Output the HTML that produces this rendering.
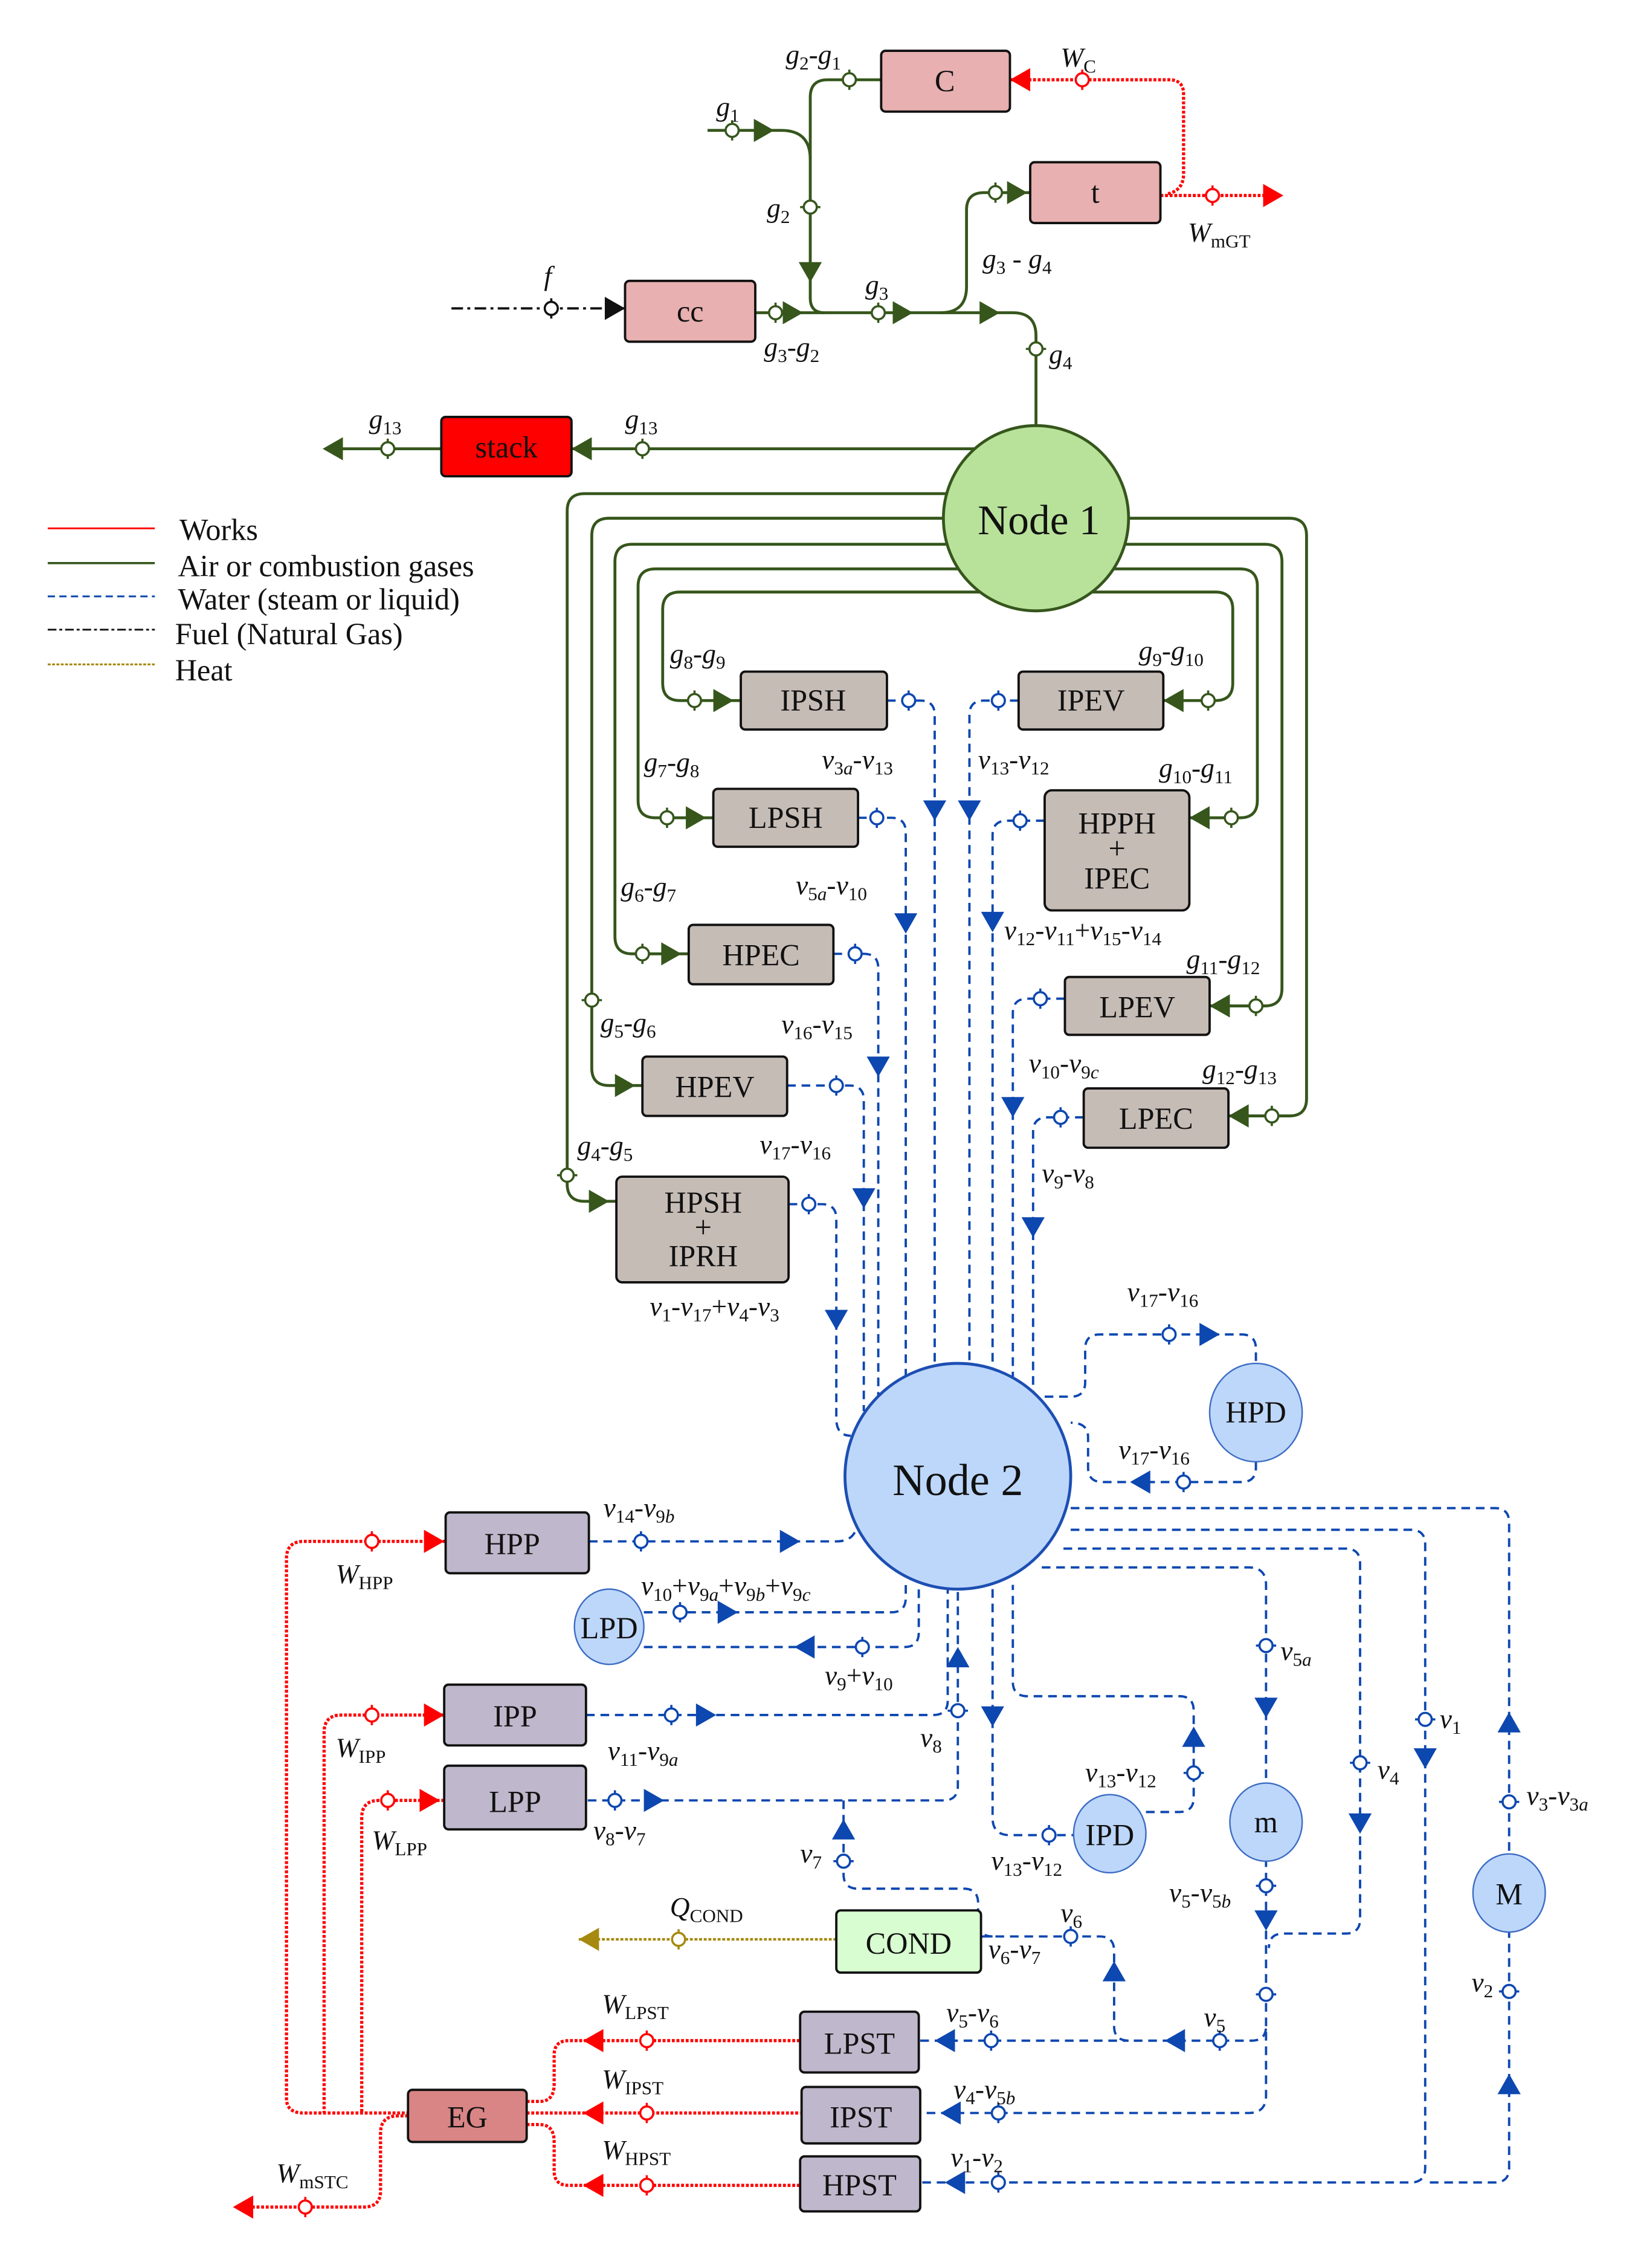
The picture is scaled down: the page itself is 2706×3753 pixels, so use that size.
<!DOCTYPE html>
<html><head><meta charset="utf-8"><style>
html,body{margin:0;padding:0;background:#fff}
svg{display:block}
text{font-family:"Liberation Serif",serif;font-size:19px;fill:#111}
.i{font-style:italic}
.s{font-size:13px}
.bx{font-size:21px;text-anchor:middle}
.g{stroke:#36561c;stroke-width:2;fill:none}
.b{stroke:#0d47b0;stroke-width:1.6;fill:none;stroke-dasharray:6 4}
.r{stroke:#f00;stroke-width:2.2;fill:none;stroke-dasharray:2 1.2}
.box{stroke:#111;stroke-width:1.6}
</style></head><body>
<svg width="2706" height="3753" viewBox="0 0 1130 1567" xmlns="http://www.w3.org/2000/svg">
<defs>
<polygon id="ar" points="-7,-8 7,0 -7,8"/>
<g id="ck"><line x1="0" y1="-7" x2="0" y2="7"/><circle r="4.5" fill="#fff"/></g>
</defs>

<!-- Legend -->
<line x1="33" y1="365" x2="107" y2="365" stroke="#f00" stroke-width="1.2"/>
<line x1="33" y1="389" x2="107" y2="389" stroke="#36561c" stroke-width="1.5"/>
<line x1="33" y1="412" x2="107" y2="412" stroke="#0d47b0" stroke-width="1.3" stroke-dasharray="5 3"/>
<line x1="33" y1="435" x2="107" y2="435" stroke="#111" stroke-width="1.2" stroke-dasharray="6 2 2 2"/>
<line x1="33" y1="459" x2="107" y2="459" stroke="#a68a0f" stroke-width="1.3" stroke-dasharray="2 1"/>
<text x="124" y="373" style="font-size:21px">Works</text>
<text x="123" y="398" style="font-size:21px">Air or combustion gases</text>
<text x="123" y="421" style="font-size:21px">Water (steam or liquid)</text>
<text x="121" y="445" style="font-size:21px">Fuel (Natural Gas)</text>
<text x="121" y="470" style="font-size:21px">Heat</text>

<!-- GREEN -->
<g class="g">
<path d="M489,90 L540,90 Q560,90 560,110"/>
<path d="M609,55 L572,55 Q560,55 560,67 L560,206 Q560,216 570,216"/>
<path d="M522,216 L700,216 Q716,216 716,232 L716,300"/>
<path d="M650,216 Q668,216 668,198 L668,145 Q668,133 680,133 L712,133"/>
<path d="M690,310 L395,310"/><path d="M305,310 L225,310"/>
<path d="M700,409 L470,409 Q458,409 458,421 L458,472 Q458,484 470,484 L512,484"/>
<path d="M700,393 L453,393 Q441,393 441,405 L441,553 Q441,565 453,565 L493,565"/>
<path d="M700,376 L437,376 Q425,376 425,388 L425,647 Q425,659 437,659 L476,659"/>
<path d="M700,358 L421,358 Q409,358 409,370 L409,738 Q409,750 421,750 L444,750"/>
<path d="M700,341 L404,341 Q392,341 392,353 L392,818 Q392,830 404,830 L426,830"/>
<path d="M730,409 L840,409 Q852,409 852,421 L852,472 Q852,484 840,484 L804,484"/>
<path d="M730,393 L857,393 Q869,393 869,405 L869,553 Q869,565 857,565 L822,565"/>
<path d="M730,376 L874,376 Q886,376 886,388 L886,683 Q886,695 874,695 L836,695"/>
<path d="M730,358 L891,358 Q903,358 903,370 L903,759 Q903,771 891,771 L849,771"/>
</g>
<g fill="#36561c">
<use href="#ar" transform="translate(528,90)"/>
<use href="#ar" transform="translate(560,188) rotate(90)"/>
<use href="#ar" transform="translate(548,216)"/>
<use href="#ar" transform="translate(624,216)"/>
<use href="#ar" transform="translate(684,216)"/>
<use href="#ar" transform="translate(703,133)"/>
<use href="#ar" transform="translate(402,310) rotate(180)"/>
<use href="#ar" transform="translate(230,310) rotate(180)"/>
<use href="#ar" transform="translate(500,484)"/>
<use href="#ar" transform="translate(481,565)"/>
<use href="#ar" transform="translate(464,659)"/>
<use href="#ar" transform="translate(432,750)"/>
<use href="#ar" transform="translate(414,830)"/>
<use href="#ar" transform="translate(811,484) rotate(180)"/>
<use href="#ar" transform="translate(829,565) rotate(180)"/>
<use href="#ar" transform="translate(843,695) rotate(180)"/>
<use href="#ar" transform="translate(856,771) rotate(180)"/>
</g>
<g stroke="#36561c" stroke-width="1.5">
<use href="#ck" transform="translate(506,90)"/>
<use href="#ck" transform="translate(587,55)"/>
<use href="#ck" transform="translate(560,143) rotate(90)"/>
<use href="#ck" transform="translate(536,216)"/>
<use href="#ck" transform="translate(607,216)"/>
<use href="#ck" transform="translate(716,241) rotate(90)"/>
<use href="#ck" transform="translate(688,133)"/>
<use href="#ck" transform="translate(444,310)"/>
<use href="#ck" transform="translate(268,310)"/>
<use href="#ck" transform="translate(480,484)"/>
<use href="#ck" transform="translate(461,565)"/>
<use href="#ck" transform="translate(444,659)"/>
<use href="#ck" transform="translate(409,691) rotate(90)"/>
<use href="#ck" transform="translate(392,812) rotate(90)"/>
<use href="#ck" transform="translate(835,484)"/>
<use href="#ck" transform="translate(851,565)"/>
<use href="#ck" transform="translate(868,695)"/>
<use href="#ck" transform="translate(879,771)"/>
</g>

<!-- fuel -->
<path d="M312,213 L432,213" stroke="#111" stroke-width="1.6" stroke-dasharray="8 3 2 3" fill="none"/>
<use href="#ar" transform="translate(425,213)" fill="#111"/>
<use href="#ck" transform="translate(381,213)" stroke="#111" stroke-width="1.5"/>

<!-- RED -->
<g class="r">
<path d="M698,55 L808,55 Q818,55 818,65 L818,120 Q818,132 806,134"/>
<path d="M802,135 L880,135"/>
<path d="M308,1065 L210,1065 Q198,1065 198,1077 L198,1450 Q198,1460 210,1460 L282,1460"/>
<path d="M307,1185 L236,1185 Q224,1185 224,1197 L224,1460"/>
<path d="M307,1244 L262,1244 Q250,1244 250,1256 L250,1460"/>
<path d="M282,1462 L275,1462 Q263,1462 263,1474 L263,1514 Q263,1525 251,1525 L163,1525"/>
<path d="M364,1452 L373,1452 Q383,1452 383,1440 L383,1420 Q383,1410 393,1410 L553,1410"/>
<path d="M364,1460 L553,1460"/>
<path d="M364,1468 L373,1468 Q383,1468 383,1480 L383,1500 Q383,1510 393,1510 L553,1510"/>
</g>
<g fill="#f00">
<use href="#ar" transform="translate(705,55) rotate(180)"/>
<use href="#ar" transform="translate(880,135)"/>
<use href="#ar" transform="translate(300,1065)"/>
<use href="#ar" transform="translate(300,1185)"/>
<use href="#ar" transform="translate(297,1244)"/>
<use href="#ar" transform="translate(168,1525) rotate(180)"/>
<use href="#ar" transform="translate(410,1410) rotate(180)"/>
<use href="#ar" transform="translate(410,1460) rotate(180)"/>
<use href="#ar" transform="translate(410,1510) rotate(180)"/>
</g>
<g stroke="#f00" stroke-width="1.5">
<use href="#ck" transform="translate(748,55)"/>
<use href="#ck" transform="translate(838,135)"/>
<use href="#ck" transform="translate(257,1065)"/>
<use href="#ck" transform="translate(257,1185)"/>
<use href="#ck" transform="translate(268,1244)"/>
<use href="#ck" transform="translate(211,1525)"/>
<use href="#ck" transform="translate(447,1410)"/>
<use href="#ck" transform="translate(447,1460)"/>
<use href="#ck" transform="translate(447,1510)"/>
</g>

<!-- Heat -->
<path d="M578,1340 L400,1340" stroke="#a68a0f" stroke-width="1.8" stroke-dasharray="2 1.2" fill="none"/>
<use href="#ar" transform="translate(407,1340) rotate(180)" fill="#a68a0f"/>
<use href="#ck" transform="translate(469,1340)" stroke="#a68a0f" stroke-width="1.5"/>

<!-- BLUE -->
<g class="b">
<path d="M613,484 L636,484 Q646,484 646,494 L646,955"/>
<path d="M593,565 L616,565 Q626,565 626,575 L626,960"/>
<path d="M576,659 L597,659 Q607,659 607,669 L607,968"/>
<path d="M544,750 L587,750 Q597,750 597,760 L597,975"/>
<path d="M545,832 L568,832 Q578,832 578,842 L578,980 Q578,992 588,992"/>
<path d="M704,484 L680,484 Q670,484 670,494 L670,950"/>
<path d="M722,567 L696,567 Q686,567 686,577 L686,950"/>
<path d="M736,690 L710,690 Q700,690 700,700 L700,955"/>
<path d="M749,772 L724,772 Q714,772 714,782 L714,962"/>
<path d="M722,965 L740,965 Q750,965 750,955 L750,932 Q750,922 760,922 L858,922 Q868,922 868,932 L868,942"/>
<path d="M868,1010 L868,1014 Q868,1024 858,1024 L762,1024 Q752,1024 752,1014 L752,993 Q752,983 740,983"/>
<path d="M407,1065 L578,1065 Q590,1065 592,1055"/>
<path d="M445,1114 L616,1114 Q626,1114 626,1104 L626,1092"/>
<path d="M445,1138 L625,1138 Q635,1138 635,1128 L635,1095"/>
<path d="M405,1185 L645,1185 Q655,1185 655,1175 L655,1098"/>
<path d="M662,1100 L662,1234 Q662,1244 652,1244 L405,1244"/>
<path d="M583,1244 L583,1295 Q583,1305 593,1305 L666,1305 Q676,1305 676,1315 L676,1328 Q676,1338 686,1338"/>
<path d="M678,1338 L760,1338 Q770,1338 770,1348 L770,1400 Q770,1410 780,1410 L865,1410 Q875,1410 875,1400"/>
<path d="M636,1410 L780,1410"/>
<path d="M720,1083 L863,1083 Q875,1083 875,1095 L875,1234"/>
<path d="M875,1284 L875,1448 Q875,1460 863,1460 L636,1460"/>
<path d="M735,1070 L930,1070 Q940,1070 940,1080 L940,1326 Q940,1336 930,1336 L887,1336 Q877,1336 877,1346"/>
<path d="M740,1057 L975,1057 Q985,1057 985,1067 L985,1498 Q985,1508 975,1508 L636,1508"/>
<path d="M740,1042 L1033,1042 Q1043,1042 1043,1052 L1043,1283"/>
<path d="M1043,1333 L1043,1498 Q1043,1508 1033,1508 L985,1508"/>
<path d="M686,1098 L686,1256 Q686,1268 698,1268 L742,1268"/>
<path d="M792,1252 L815,1252 Q825,1252 825,1242 L825,1182 Q825,1172 815,1172 L710,1172 Q700,1172 700,1162 L700,1095"/>
</g>
<g fill="#0d47b0">
<use href="#ar" transform="translate(646,560) rotate(90)"/>
<use href="#ar" transform="translate(626,638) rotate(90)"/>
<use href="#ar" transform="translate(607,737) rotate(90)"/>
<use href="#ar" transform="translate(597,828) rotate(90)"/>
<use href="#ar" transform="translate(578,912) rotate(90)"/>
<use href="#ar" transform="translate(670,560) rotate(90)"/>
<use href="#ar" transform="translate(686,637) rotate(90)"/>
<use href="#ar" transform="translate(700,765) rotate(90)"/>
<use href="#ar" transform="translate(714,848) rotate(90)"/>
<use href="#ar" transform="translate(836,922)"/>
<use href="#ar" transform="translate(788,1024) rotate(180)"/>
<use href="#ar" transform="translate(546,1065)"/>
<use href="#ar" transform="translate(503,1114)"/>
<use href="#ar" transform="translate(556,1138) rotate(180)"/>
<use href="#ar" transform="translate(488,1185)"/>
<use href="#ar" transform="translate(662,1145) rotate(-90)"/>
<use href="#ar" transform="translate(452,1244)"/>
<use href="#ar" transform="translate(583,1264) rotate(-90)"/>
<use href="#ar" transform="translate(770,1362) rotate(-90)"/>
<use href="#ar" transform="translate(812,1410) rotate(180)"/>
<use href="#ar" transform="translate(653,1410) rotate(180)"/>
<use href="#ar" transform="translate(875,1180) rotate(90)"/>
<use href="#ar" transform="translate(875,1327) rotate(90)"/>
<use href="#ar" transform="translate(657,1460) rotate(180)"/>
<use href="#ar" transform="translate(940,1260) rotate(90)"/>
<use href="#ar" transform="translate(985,1215) rotate(90)"/>
<use href="#ar" transform="translate(660,1508) rotate(180)"/>
<use href="#ar" transform="translate(1043,1190) rotate(-90)"/>
<use href="#ar" transform="translate(1043,1440) rotate(-90)"/>
<use href="#ar" transform="translate(686,1186) rotate(90)"/>
<use href="#ar" transform="translate(825,1200) rotate(-90)"/>
</g>
<g stroke="#0d47b0" stroke-width="1.5">
<use href="#ck" transform="translate(628,484)"/>
<use href="#ck" transform="translate(606,565)"/>
<use href="#ck" transform="translate(591,659)"/>
<use href="#ck" transform="translate(578,750)"/>
<use href="#ck" transform="translate(559,832)"/>
<use href="#ck" transform="translate(690,484)"/>
<use href="#ck" transform="translate(705,567)"/>
<use href="#ck" transform="translate(719,690)"/>
<use href="#ck" transform="translate(733,772)"/>
<use href="#ck" transform="translate(808,922)"/>
<use href="#ck" transform="translate(818,1024)"/>
<use href="#ck" transform="translate(443,1065)"/>
<use href="#ck" transform="translate(470,1114)"/>
<use href="#ck" transform="translate(596,1138)"/>
<use href="#ck" transform="translate(464,1185)"/>
<use href="#ck" transform="translate(662,1182) rotate(90)"/>
<use href="#ck" transform="translate(425,1244)"/>
<use href="#ck" transform="translate(583,1286) rotate(90)"/>
<use href="#ck" transform="translate(740,1338)"/>
<use href="#ck" transform="translate(843,1410)"/>
<use href="#ck" transform="translate(685,1410)"/>
<use href="#ck" transform="translate(875,1137) rotate(90)"/>
<use href="#ck" transform="translate(875,1303) rotate(90)"/>
<use href="#ck" transform="translate(875,1378) rotate(90)"/>
<use href="#ck" transform="translate(690,1460)"/>
<use href="#ck" transform="translate(940,1218) rotate(90)"/>
<use href="#ck" transform="translate(985,1188) rotate(90)"/>
<use href="#ck" transform="translate(690,1508)"/>
<use href="#ck" transform="translate(1043,1245) rotate(90)"/>
<use href="#ck" transform="translate(1043,1376) rotate(90)"/>
<use href="#ck" transform="translate(725,1268)"/>
<use href="#ck" transform="translate(825,1225) rotate(90)"/>
</g>

<!-- Nodes -->
<circle cx="716" cy="358" r="64" fill="#b8e29a" stroke="#36561c" stroke-width="2"/>
<text x="718" y="369" style="font-size:29px;text-anchor:middle">Node 1</text>
<circle cx="662" cy="1020" r="78" fill="#bdd7fb" stroke="#1d4fb3" stroke-width="2"/>
<text x="662" y="1033" style="font-size:31px;text-anchor:middle">Node 2</text>
<g fill="#bdd7fb" stroke="#3d6cc4" stroke-width="1">
<ellipse cx="868" cy="976" rx="32" ry="34"/>
<ellipse cx="421" cy="1124" rx="24" ry="26"/>
<ellipse cx="767" cy="1267" rx="25" ry="27"/>
<ellipse cx="875" cy="1259" rx="25" ry="27"/>
<ellipse cx="1043" cy="1308" rx="25" ry="27"/>
</g>
<text class="bx" x="868" y="983">HPD</text>
<text class="bx" x="421" y="1132">LPD</text>
<text class="bx" x="767" y="1275">IPD</text>
<text class="bx" x="875" y="1266">m</text>
<text class="bx" x="1043" y="1316">M</text>

<!-- Boxes -->
<g class="box">
<rect x="609" y="35" width="89" height="42" rx="3" fill="#e8b0b0"/>
<rect x="712" y="112" width="90" height="42" rx="3" fill="#e8b0b0"/>
<rect x="432" y="194" width="90" height="42" rx="3" fill="#e8b0b0"/>
<rect x="305" y="288" width="90" height="41" rx="3" fill="#ff0000"/>
<rect x="512" y="464" width="101" height="40" rx="3" fill="#c6bcb6"/>
<rect x="493" y="545" width="100" height="40" rx="3" fill="#c6bcb6"/>
<rect x="476" y="639" width="100" height="41" rx="3" fill="#c6bcb6"/>
<rect x="444" y="730" width="100" height="41" rx="3" fill="#c6bcb6"/>
<rect x="426" y="813" width="119" height="73" rx="4" fill="#c6bcb6"/>
<rect x="704" y="464" width="100" height="40" rx="3" fill="#c6bcb6"/>
<rect x="722" y="546" width="100" height="83" rx="5" fill="#c6bcb6"/>
<rect x="736" y="675" width="100" height="40" rx="3" fill="#c6bcb6"/>
<rect x="749" y="752" width="100" height="41" rx="3" fill="#c6bcb6"/>
<rect x="308" y="1045" width="99" height="42" rx="3" fill="#bfb8cc"/>
<rect x="307" y="1164" width="98" height="42" rx="3" fill="#bfb8cc"/>
<rect x="307" y="1220" width="98" height="44" rx="3" fill="#bfb8cc"/>
<rect x="578" y="1320" width="100" height="43" rx="3" fill="#d8fdd0"/>
<rect x="553" y="1390" width="82" height="42" rx="3" fill="#bfb8cc"/>
<rect x="554" y="1442" width="82" height="39" rx="3" fill="#bfb8cc"/>
<rect x="553" y="1490" width="83" height="38" rx="3" fill="#bfb8cc"/>
<rect x="282" y="1444" width="82" height="36" rx="3" fill="#d98585"/>
</g>
<text class="bx" x="653" y="63">C</text>
<text class="bx" x="757" y="140">t</text>
<text class="bx" x="477" y="222">cc</text>
<text class="bx" x="350" y="316">stack</text>
<text class="bx" x="562" y="491">IPSH</text>
<text class="bx" x="543" y="572">LPSH</text>
<text class="bx" x="526" y="667">HPEC</text>
<text class="bx" x="494" y="758">HPEV</text>
<text class="bx" x="486" y="838">HPSH</text>
<text class="bx" x="486" y="855">+</text>
<text class="bx" x="486" y="875">IPRH</text>
<text class="bx" x="754" y="491">IPEV</text>
<text class="bx" x="772" y="576">HPPH</text>
<text class="bx" x="772" y="593">+</text>
<text class="bx" x="772" y="614">IPEC</text>
<text class="bx" x="786" y="703">LPEV</text>
<text class="bx" x="799" y="780">LPEC</text>
<text class="bx" x="354" y="1074">HPP</text>
<text class="bx" x="356" y="1193">IPP</text>
<text class="bx" x="356" y="1252">LPP</text>
<text class="bx" x="628" y="1350">COND</text>
<text class="bx" x="594" y="1419">LPST</text>
<text class="bx" x="595" y="1470">IPST</text>
<text class="bx" x="594" y="1517">HPST</text>
<text class="bx" x="323" y="1470">EG</text>

<!-- Labels -->
<text x="543" y="44"><tspan class="i">g</tspan><tspan class="s" dy="4">2</tspan><tspan dy="-4">-</tspan><tspan class="i">g</tspan><tspan class="s" dy="4">1</tspan></text>
<text x="495" y="80"><tspan class="i">g</tspan><tspan class="s" dy="4">1</tspan></text>
<text x="530" y="150"><tspan class="i">g</tspan><tspan class="s" dy="4">2</tspan></text>
<text x="376" y="197" class="i">f</text>
<text x="528" y="246"><tspan class="i">g</tspan><tspan class="s" dy="4">3</tspan><tspan dy="-4">-</tspan><tspan class="i">g</tspan><tspan class="s" dy="4">2</tspan></text>
<text x="598" y="203"><tspan class="i">g</tspan><tspan class="s" dy="4">3</tspan></text>
<text x="679" y="185"><tspan class="i">g</tspan><tspan class="s" dy="4">3</tspan><tspan dy="-4"> - </tspan><tspan class="i">g</tspan><tspan class="s" dy="4">4</tspan></text>
<text x="725" y="251"><tspan class="i">g</tspan><tspan class="s" dy="4">4</tspan></text>
<text x="733" y="46"><tspan class="i">W</tspan><tspan class="s" dy="4">C</tspan></text>
<text x="821" y="167"><tspan class="i">W</tspan><tspan class="s" dy="4">mGT</tspan></text>
<text x="255" y="296"><tspan class="i">g</tspan><tspan class="s" dy="4">13</tspan></text>
<text x="432" y="296"><tspan class="i">g</tspan><tspan class="s" dy="4">13</tspan></text>

<text x="463" y="458"><tspan class="i">g</tspan><tspan class="s" dy="4">8</tspan><tspan dy="-4">-</tspan><tspan class="i">g</tspan><tspan class="s" dy="4">9</tspan></text>
<text x="445" y="533"><tspan class="i">g</tspan><tspan class="s" dy="4">7</tspan><tspan dy="-4">-</tspan><tspan class="i">g</tspan><tspan class="s" dy="4">8</tspan></text>
<text x="429" y="619"><tspan class="i">g</tspan><tspan class="s" dy="4">6</tspan><tspan dy="-4">-</tspan><tspan class="i">g</tspan><tspan class="s" dy="4">7</tspan></text>
<text x="415" y="713"><tspan class="i">g</tspan><tspan class="s" dy="4">5</tspan><tspan dy="-4">-</tspan><tspan class="i">g</tspan><tspan class="s" dy="4">6</tspan></text>
<text x="399" y="798"><tspan class="i">g</tspan><tspan class="s" dy="4">4</tspan><tspan dy="-4">-</tspan><tspan class="i">g</tspan><tspan class="s" dy="4">5</tspan></text>
<text x="787" y="456"><tspan class="i">g</tspan><tspan class="s" dy="4">9</tspan><tspan dy="-4">-</tspan><tspan class="i">g</tspan><tspan class="s" dy="4">10</tspan></text>
<text x="801" y="537"><tspan class="i">g</tspan><tspan class="s" dy="4">10</tspan><tspan dy="-4">-</tspan><tspan class="i">g</tspan><tspan class="s" dy="4">11</tspan></text>
<text x="820" y="669"><tspan class="i">g</tspan><tspan class="s" dy="4">11</tspan><tspan dy="-4">-</tspan><tspan class="i">g</tspan><tspan class="s" dy="4">12</tspan></text>
<text x="831" y="745"><tspan class="i">g</tspan><tspan class="s" dy="4">12</tspan><tspan dy="-4">-</tspan><tspan class="i">g</tspan><tspan class="s" dy="4">13</tspan></text>

<text x="568" y="531"><tspan class="i">v</tspan><tspan class="s" dy="4">3<tspan class="i">a</tspan></tspan><tspan dy="-4">-</tspan><tspan class="i">v</tspan><tspan class="s" dy="4">13</tspan></text>
<text x="676" y="531"><tspan class="i">v</tspan><tspan class="s" dy="4">13</tspan><tspan dy="-4">-</tspan><tspan class="i">v</tspan><tspan class="s" dy="4">12</tspan></text>
<text x="550" y="618"><tspan class="i">v</tspan><tspan class="s" dy="4">5<tspan class="i">a</tspan></tspan><tspan dy="-4">-</tspan><tspan class="i">v</tspan><tspan class="s" dy="4">10</tspan></text>
<text x="694" y="649"><tspan class="i">v</tspan><tspan class="s" dy="4">12</tspan><tspan dy="-4">-</tspan><tspan class="i">v</tspan><tspan class="s" dy="4">11</tspan><tspan dy="-4">+</tspan><tspan class="i">v</tspan><tspan class="s" dy="4">15</tspan><tspan dy="-4">-</tspan><tspan class="i">v</tspan><tspan class="s" dy="4">14</tspan></text>
<text x="540" y="714"><tspan class="i">v</tspan><tspan class="s" dy="4">16</tspan><tspan dy="-4">-</tspan><tspan class="i">v</tspan><tspan class="s" dy="4">15</tspan></text>
<text x="711" y="741"><tspan class="i">v</tspan><tspan class="s" dy="4">10</tspan><tspan dy="-4">-</tspan><tspan class="i">v</tspan><tspan class="s" dy="4">9<tspan class="i">c</tspan></tspan></text>
<text x="525" y="797"><tspan class="i">v</tspan><tspan class="s" dy="4">17</tspan><tspan dy="-4">-</tspan><tspan class="i">v</tspan><tspan class="s" dy="4">16</tspan></text>
<text x="720" y="817"><tspan class="i">v</tspan><tspan class="s" dy="4">9</tspan><tspan dy="-4">-</tspan><tspan class="i">v</tspan><tspan class="s" dy="4">8</tspan></text>
<text x="449" y="909"><tspan class="i">v</tspan><tspan class="s" dy="4">1</tspan><tspan dy="-4">-</tspan><tspan class="i">v</tspan><tspan class="s" dy="4">17</tspan><tspan dy="-4">+</tspan><tspan class="i">v</tspan><tspan class="s" dy="4">4</tspan><tspan dy="-4">-</tspan><tspan class="i">v</tspan><tspan class="s" dy="4">3</tspan></text>
<text x="779" y="899"><tspan class="i">v</tspan><tspan class="s" dy="4">17</tspan><tspan dy="-4">-</tspan><tspan class="i">v</tspan><tspan class="s" dy="4">16</tspan></text>
<text x="773" y="1008"><tspan class="i">v</tspan><tspan class="s" dy="4">17</tspan><tspan dy="-4">-</tspan><tspan class="i">v</tspan><tspan class="s" dy="4">16</tspan></text>
<text x="417" y="1048"><tspan class="i">v</tspan><tspan class="s" dy="4">14</tspan><tspan dy="-4">-</tspan><tspan class="i">v</tspan><tspan class="s" dy="4">9<tspan class="i">b</tspan></tspan></text>
<text x="443" y="1102"><tspan class="i">v</tspan><tspan class="s" dy="4">10</tspan><tspan dy="-4">+</tspan><tspan class="i">v</tspan><tspan class="s" dy="4">9<tspan class="i">a</tspan></tspan><tspan dy="-4">+</tspan><tspan class="i">v</tspan><tspan class="s" dy="4">9<tspan class="i">b</tspan></tspan><tspan dy="-4">+</tspan><tspan class="i">v</tspan><tspan class="s" dy="4">9<tspan class="i">c</tspan></tspan></text>
<text x="570" y="1164"><tspan class="i">v</tspan><tspan class="s" dy="4">9</tspan><tspan dy="-4">+</tspan><tspan class="i">v</tspan><tspan class="s" dy="4">10</tspan></text>
<text x="420" y="1216"><tspan class="i">v</tspan><tspan class="s" dy="4">11</tspan><tspan dy="-4">-</tspan><tspan class="i">v</tspan><tspan class="s" dy="4">9<tspan class="i">a</tspan></tspan></text>
<text x="636" y="1207"><tspan class="i">v</tspan><tspan class="s" dy="4">8</tspan></text>
<text x="410" y="1271"><tspan class="i">v</tspan><tspan class="s" dy="4">8</tspan><tspan dy="-4">-</tspan><tspan class="i">v</tspan><tspan class="s" dy="4">7</tspan></text>
<text x="553" y="1287"><tspan class="i">v</tspan><tspan class="s" dy="4">7</tspan></text>
<text x="750" y="1231"><tspan class="i">v</tspan><tspan class="s" dy="4">13</tspan><tspan dy="-4">-</tspan><tspan class="i">v</tspan><tspan class="s" dy="4">12</tspan></text>
<text x="685" y="1292"><tspan class="i">v</tspan><tspan class="s" dy="4">13</tspan><tspan dy="-4">-</tspan><tspan class="i">v</tspan><tspan class="s" dy="4">12</tspan></text>
<text x="885" y="1147"><tspan class="i">v</tspan><tspan class="s" dy="4">5<tspan class="i">a</tspan></tspan></text>
<text x="808" y="1314"><tspan class="i">v</tspan><tspan class="s" dy="4">5</tspan><tspan dy="-4">-</tspan><tspan class="i">v</tspan><tspan class="s" dy="4">5<tspan class="i">b</tspan></tspan></text>
<text x="952" y="1229"><tspan class="i">v</tspan><tspan class="s" dy="4">4</tspan></text>
<text x="995" y="1194"><tspan class="i">v</tspan><tspan class="s" dy="4">1</tspan></text>
<text x="1055" y="1247"><tspan class="i">v</tspan><tspan class="s" dy="4">3</tspan><tspan dy="-4">-</tspan><tspan class="i">v</tspan><tspan class="s" dy="4">3<tspan class="i">a</tspan></tspan></text>
<text x="1017" y="1376"><tspan class="i">v</tspan><tspan class="s" dy="4">2</tspan></text>
<text x="733" y="1328"><tspan class="i">v</tspan><tspan class="s" dy="4">6</tspan></text>
<text x="683" y="1353"><tspan class="i">v</tspan><tspan class="s" dy="4">6</tspan><tspan dy="-4">-</tspan><tspan class="i">v</tspan><tspan class="s" dy="4">7</tspan></text>
<text x="832" y="1400"><tspan class="i">v</tspan><tspan class="s" dy="4">5</tspan></text>
<text x="654" y="1397"><tspan class="i">v</tspan><tspan class="s" dy="4">5</tspan><tspan dy="-4">-</tspan><tspan class="i">v</tspan><tspan class="s" dy="4">6</tspan></text>
<text x="659" y="1450"><tspan class="i">v</tspan><tspan class="s" dy="4">4</tspan><tspan dy="-4">-</tspan><tspan class="i">v</tspan><tspan class="s" dy="4">5<tspan class="i">b</tspan></tspan></text>
<text x="657" y="1497"><tspan class="i">v</tspan><tspan class="s" dy="4">1</tspan><tspan dy="-4">-</tspan><tspan class="i">v</tspan><tspan class="s" dy="4">2</tspan></text>
<text x="463" y="1324"><tspan class="i">Q</tspan><tspan class="s" dy="4">COND</tspan></text>
<text x="232" y="1094"><tspan class="i">W</tspan><tspan class="s" dy="4">HPP</tspan></text>
<text x="232" y="1214"><tspan class="i">W</tspan><tspan class="s" dy="4">IPP</tspan></text>
<text x="257" y="1278"><tspan class="i">W</tspan><tspan class="s" dy="4">LPP</tspan></text>
<text x="416" y="1391"><tspan class="i">W</tspan><tspan class="s" dy="4">LPST</tspan></text>
<text x="416" y="1443"><tspan class="i">W</tspan><tspan class="s" dy="4">IPST</tspan></text>
<text x="416" y="1492"><tspan class="i">W</tspan><tspan class="s" dy="4">HPST</tspan></text>
<text x="191" y="1508"><tspan class="i">W</tspan><tspan class="s" dy="4">mSTC</tspan></text>
</svg>
</body></html>
